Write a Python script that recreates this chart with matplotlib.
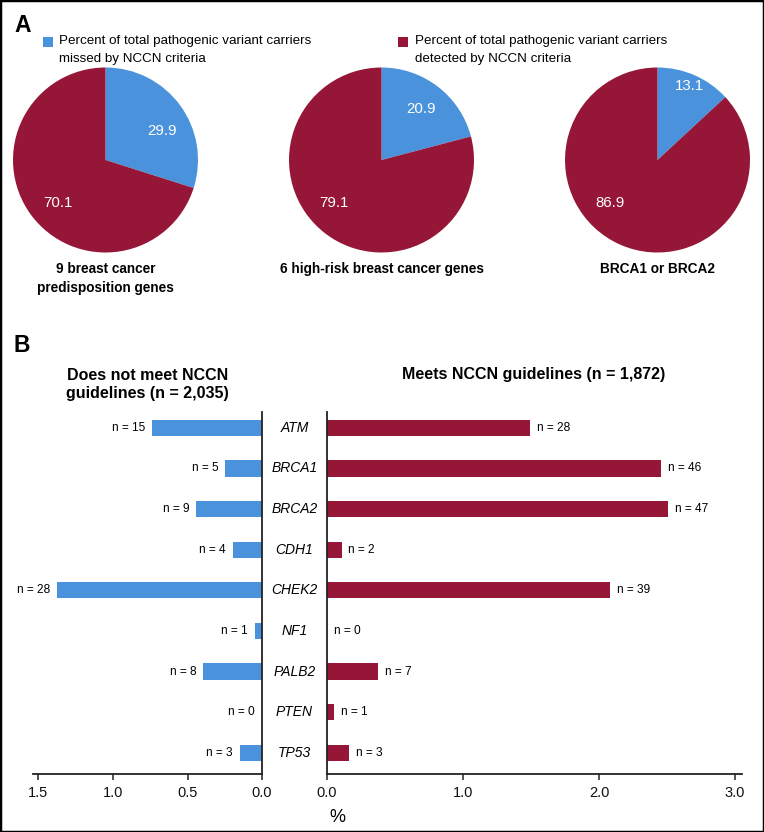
import matplotlib
matplotlib.use('Agg')
import matplotlib.pyplot as plt
import numpy as np
from matplotlib import transforms
from matplotlib.patches import Rectangle

plt.rcParams['font.family'] = ['Liberation Sans', 'DejaVu Sans']

# ---------------- data ----------------
pie_titles = ['9 breast cancer\npredisposition genes',
              '6 high-risk breast cancer genes',
              'BRCA1 or BRCA2']
pie_missed = [29.9, 20.9, 13.1]
pie_detected = [70.1, 79.1, 86.9]

legend_missed = ['Percent of total pathogenic variant carriers', 'missed by NCCN criteria']
legend_detected = ['Percent of total pathogenic variant carriers', 'detected by NCCN criteria']

genes = ['ATM', 'BRCA1', 'BRCA2', 'CDH1', 'CHEK2', 'NF1', 'PALB2', 'PTEN', 'TP53']
n_not_meet = [15, 5, 9, 4, 28, 1, 8, 0, 3]
n_meet = [28, 46, 47, 2, 39, 0, 7, 1, 3]
total_not_meet = 2035
total_meet = 1872
left_ticks = [1.5, 1.0, 0.5, 0.0]
right_ticks = [0.0, 1.0, 2.0, 3.0]

pct_not_meet = [n / total_not_meet * 100 for n in n_not_meet]
pct_meet = [n / total_meet * 100 for n in n_meet]

# ---------------- style ----------------
W, H = 764, 832
BLUE = '#4a92dc'
RED = '#951637'
NARROW = ['Liberation Sans Narrow', 'Liberation Sans', 'DejaVu Sans']

fig = plt.figure(figsize=(W / 100, H / 100), dpi=100)


def px(x0, y0, w, h):
    return [x0 / W, 1 - (y0 + h) / H, w / W, h / H]


def fy(y):
    return 1 - y / H


# panel letters
fig.text(14 / W, fy(25), 'A', fontsize=16.5, fontweight='bold', va='center', ha='left')
fig.text(14 / W, fy(345), 'B', fontsize=16.5, fontweight='bold', va='center', ha='left')

# legend
for (sx, tx, col, lines) in [(43, 59, BLUE, legend_missed), (398, 415, RED, legend_detected)]:
    fig.patches.append(Rectangle((sx / W, fy(47)), 10 / W, 10 / H,
                                 transform=fig.transFigure, color=col, lw=0))
    fig.text(tx / W, fy(41), lines[0], family=NARROW, fontsize=9.6, va='center', ha='left')
    fig.text(tx / W, fy(59), lines[1], family=NARROW, fontsize=9.6, va='center', ha='left')

# pies
centers = [105.5, 381.5, 657.5]
R = 92.5
blue_r = [0.68, 0.70, 0.87]
for k, cx in enumerate(centers):
    ax = fig.add_axes(px(cx - R, 160 - R, 2 * R, 2 * R))
    ax.pie([pie_missed[k], pie_detected[k]], colors=[BLUE, RED], startangle=90,
           counterclock=False, radius=1, wedgeprops=dict(linewidth=0))
    ax.set_xlim(-1, 1)
    ax.set_ylim(-1, 1)
    ax.set_aspect('equal')
    ax.axis('off')
    mid = np.deg2rad(90 - pie_missed[k] * 3.6 / 2)
    if k == 0:
        mid = np.deg2rad(27)
    ax.text(blue_r[k] * np.cos(mid), blue_r[k] * np.sin(mid), f'{pie_missed[k]:.1f}',
            color='white', fontsize=10.8, ha='center', va='center')
    a2 = np.deg2rad(-138)
    ax.text(0.69 * np.cos(a2), 0.69 * np.sin(a2), f'{pie_detected[k]:.1f}',
            color='white', fontsize=10.8, ha='center', va='center')
    fig.text(cx / W, fy(262), pie_titles[k], fontsize=9.8, fontweight='bold',
             ha='center', va='top', linespacing=1.45)

# bar panel
axL = fig.add_axes(px(33, 412, 229, 362))
axR = fig.add_axes(px(327, 412, 415, 362))
y = np.arange(len(genes))
axL.barh(y, pct_not_meet, height=0.4, color=BLUE, lw=0)
axR.barh(y, pct_meet, height=0.4, color=RED, lw=0)
axL.set_xlim(229 / 149, 0)
axR.set_xlim(0, 415 / 136)
for a in (axL, axR):
    a.set_ylim(8.52, -0.39)
    a.set_yticks([])
    a.spines['top'].set_visible(False)
    a.tick_params(axis='x', direction='out', length=4.5, width=1.1, labelsize=10.5,
                  pad=4, color='#222222', labelcolor='#111111')
    a.patch.set_alpha(0)
axL.spines['left'].set_visible(False)
axR.spines['right'].set_visible(False)
for s in ('bottom', 'right'):
    axL.spines[s].set_linewidth(1.3)
    axL.spines[s].set_color('#222222')
for s in ('bottom', 'left'):
    axR.spines[s].set_linewidth(1.3)
    axR.spines[s].set_color('#222222')
axL.set_xticks(left_ticks)
axL.set_xticklabels([f'{t:.1f}' for t in left_ticks])
axR.set_xticks(right_ticks)
axR.set_xticklabels([f'{t:.1f}' for t in right_ticks])

for i in range(len(genes)):
    axL.annotate(f'n = {n_not_meet[i]}', xy=(pct_not_meet[i], i), xytext=(-5, 0),
                 textcoords='offset points', ha='right', va='center', fontsize=8.6)
    axR.annotate(f'n = {n_meet[i]}', xy=(pct_meet[i], i), xytext=(5, 0),
                 textcoords='offset points', ha='left', va='center', fontsize=8.6)

trans = transforms.blended_transform_factory(fig.transFigure, axL.transData)
for i, g in enumerate(genes):
    axL.text(294.5 / W, i, g, transform=trans, ha='center', va='center',
             style='italic', fontsize=10)

fig.text(147.5 / W, fy(384.5), 'Does not meet NCCN\nguidelines (n = 2,035)',
         fontsize=11.5, fontweight='bold', ha='center', va='center', linespacing=1.2)
fig.text(534 / W, fy(375), f'Meets NCCN guidelines (n = {total_meet:,})',
         fontsize=11.5, fontweight='bold', ha='center', va='center')
fig.text(337 / W, fy(817), '%', fontsize=13, ha='center', va='center')

# border
fig.patches.append(Rectangle((0, 0), 1, 1, transform=fig.transFigure, fill=False,
                             edgecolor='black', lw=2.5))

fig.savefig('out.png', dpi=100)
